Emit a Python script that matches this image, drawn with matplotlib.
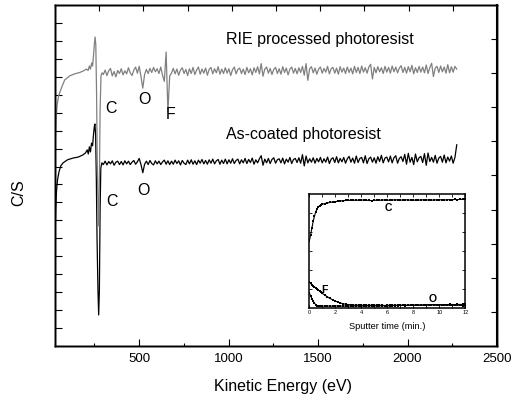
import numpy as np
import matplotlib
matplotlib.use("Agg")
import matplotlib.pyplot as plt

plt.rcParams['font.family'] = ['Liberation Sans', 'DejaVu Sans']

# --- main spectra (kinetic energy in eV, C/S in arbitrary units) ---
# low-energy part, read point by point
rie_head_ev = [32, 36, 42, 50, 66, 84, 112, 140, 168, 190, 205, 215, 222, 228, 235, 240,
               245, 250, 254, 258, 262, 266, 270, 274, 278, 282, 287, 293]
rie_head_cs = [60.4, 66.9, 70.7, 73.3, 75.7, 78.0, 79.2, 79.8, 80.2, 80.7, 81.2, 80.8, 82.1, 81.2, 83.0, 82.1,
               85.1, 88.6, 90.6, 88.3, 75.1, 54.6, 41.4, 35.2, 48.7, 69.2, 79.2, 80.1]

ce_head_ev = [31, 34, 38, 44, 52, 62, 75, 100, 130, 160, 185, 200, 210, 216, 222, 228, 234, 240,
              245, 250, 253, 257, 261, 265, 270, 274, 278, 282, 286, 292]
ce_head_cs = [33.4, 39.9, 45.2, 48.7, 51.0, 52.8, 53.7, 54.6, 55.1, 55.4, 56.0, 56.6, 57.5, 56.3, 58.4, 56.9, 59.5, 58.7,
              61.9, 64.5, 65.1, 61.9, 48.7, 31.1, 16.4, 9.1, 16.4, 39.9, 52.2, 53.7]

# 300 - 2275 eV, roughly every 10 eV
rie_tail = [79.6, 80.9, 79.3, 80.7, 81.4, 79.2, 80.5, 78.9, 80.8, 79.9, 81.3, 79.5, 80.7, 79.8, 81.6, 80.1, 79.3, 80.9, 81.8, 80.0,
            82.0, 79.0, 75.6, 79.6,
            81.1, 79.9, 81.4, 80.2, 81.7, 80.4, 81.3, 79.9, 81.8,
            79.4, 77.6, 86.2, 68.8, 79.2,
            80.0, 81.4, 79.8, 81.2, 79.4, 80.9, 81.6, 79.9, 81.1, 79.3,
            81.3, 79.9, 81.7, 79.6, 80.9, 81.8, 79.7, 81.2, 80.0, 81.5,
            79.4, 81.1, 81.7, 79.8, 81.3, 80.1, 81.9, 79.7, 81.2, 79.9,
            81.6, 80.0, 81.3, 79.3, 81.0, 81.8, 79.8, 81.1, 81.5, 79.9,
            81.2, 79.6, 81.7, 80.1, 81.3, 79.5, 81.6, 80.2, 81.9, 79.8,
            82.8, 79.1, 81.2, 81.8, 80.0, 81.4, 79.6, 81.1, 81.7, 79.9,
            81.3, 79.7, 81.9, 80.2, 81.5, 79.5, 81.2, 81.8, 80.0, 81.4,
            79.8, 81.6, 80.2, 82.0, 79.4, 82.8, 77.9, 81.3, 81.9, 80.1,
            81.5, 79.7, 81.2, 81.8, 80.0, 81.4, 80.3, 82.0, 79.8, 81.3,
            81.7, 80.0, 81.5, 79.7, 81.9, 80.3, 81.5, 79.9, 81.8, 80.2,
            81.5, 79.8, 82.0, 80.2, 81.7, 79.9, 82.1, 80.3, 81.6, 80.0,
            81.8, 82.6, 78.3, 81.7, 80.1, 81.9, 80.4, 81.6, 79.9, 82.0,
            80.3, 81.7, 80.0, 82.1, 80.4, 81.8, 80.1, 81.5, 82.2, 80.2,
            81.7, 80.0, 81.9, 80.4, 82.3, 79.8, 81.6, 80.2, 82.0, 80.3,
            81.8, 80.1, 82.4, 79.9, 81.7, 82.9, 79.0, 81.5, 82.0, 80.2,
            82.1, 80.4, 81.8, 80.0, 82.5, 80.1, 81.9, 80.3, 82.0, 81.2]

ce_tail = [53.2, 54.2, 53.1, 54.1, 53.4, 54.3, 53.0, 53.9, 54.2, 53.2, 54.1, 53.1, 54.3, 53.4, 54.2, 53.2, 53.9, 54.4, 53.3, 54.0,
           55.0, 53.2, 50.8, 53.3,
           54.2, 53.2, 54.4, 53.5, 53.1, 54.3, 53.4, 54.2, 53.2,
           54.0, 54.5, 53.3, 54.3, 53.2,
           54.2, 53.3, 54.5, 53.5, 54.3, 53.1, 54.4, 53.6, 53.2, 54.5,
           53.4, 54.6, 53.3, 54.3, 53.2, 54.5, 53.6, 54.7, 53.4, 54.4,
           53.3, 54.6, 53.6, 54.8, 53.4, 54.3, 54.7, 53.3, 54.5, 53.5,
           54.8, 53.4, 54.6, 53.6, 54.9, 53.5, 54.4, 54.8, 53.4, 54.6,
           53.7, 55.0, 53.5, 54.7, 53.8, 55.1, 53.3, 54.6, 53.7, 54.9,
           55.8, 53.0, 54.8, 53.7, 55.0, 53.5, 54.7, 55.2, 53.6, 54.6,
           54.9, 53.7, 55.1, 53.4, 54.8, 53.9, 55.3, 53.5, 54.7, 55.0,
           53.8, 55.2, 53.6, 56.1, 52.8, 55.7, 53.7, 54.9, 53.9, 55.2,
           53.6, 55.0, 54.0, 55.3, 53.7, 54.9, 53.9, 55.4, 53.5, 54.8,
           55.2, 53.8, 55.5, 53.7, 55.0, 54.0, 55.3, 53.6, 54.9, 55.6,
           53.9, 55.1, 53.6, 55.7, 53.8, 55.0, 55.3, 53.7, 55.8, 53.5,
           54.9, 55.4, 53.9, 55.2, 53.6, 55.5, 54.1, 55.9, 53.7, 55.1,
           55.4, 54.0, 55.7, 53.7, 55.2, 55.8, 53.6, 55.0, 55.5, 54.1,
           56.2, 53.3, 56.5, 53.9, 55.3, 53.2, 56.3, 54.0, 55.2, 55.6,
           53.8, 56.4, 53.0, 56.6, 54.1, 55.3, 53.9, 55.9, 53.6, 55.1,
           55.6, 53.9, 56.0, 53.7, 55.4, 54.2, 55.7, 53.6, 55.3, 59.0]

# --- inset: depth profile ---
t_fast = np.linspace(0, 1.0, 11)
t_slow = np.linspace(1.2, 12.0, 55)
c_prof = [58.5, 64.0, 70.0, 76.0, 80.5, 84.5, 87.0, 88.8, 89.8, 90.5, 91.0,
          91.6, 92.1, 92.6, 93.0, 93.3, 93.6, 93.9, 94.1, 94.3, 94.4,
          94.5, 94.6, 94.4, 94.7, 94.6, 94.8, 94.5, 94.3, 94.2, 94.4,
          94.6, 94.5, 94.7, 94.8, 94.6, 94.5, 94.7, 94.9, 94.8, 94.6,
          94.7, 94.9, 94.8, 94.6, 94.7, 94.5, 94.6, 94.8, 94.9, 94.7,
          94.8, 94.6, 94.7, 94.9, 95.0, 94.8, 94.7, 94.9, 95.1, 95.0,
          95.2, 95.1, 95.3, 95.2, 95.3]
f_prof = [22.5, 21.3, 20.2, 19.2, 18.3, 17.3, 16.3, 15.3, 14.4, 13.5, 12.6,
          11.0, 9.5, 8.1, 6.9, 5.8, 4.9, 4.1, 3.5, 3.0, 2.7,
          2.5, 2.3, 2.2, 2.3, 2.1, 2.2, 2.0, 2.3, 2.1, 2.2,
          2.0, 2.2, 2.1, 1.9, 2.2, 2.0, 2.1, 2.3, 2.0, 2.2,
          2.1, 1.9, 2.2, 2.0, 2.1, 2.3, 2.0, 2.2, 2.1, 2.4,
          2.2, 2.5, 2.3, 2.1, 2.4, 2.2, 2.0, 2.3, 2.1, 2.2,
          2.0, 2.2, 2.1, 1.9, 2.0]
o_prof = [13.0, 10.5, 8.0, 5.8, 3.9, 2.6, 1.9, 1.6, 1.5, 1.4, 1.4,
          1.4, 1.5, 1.3, 1.4, 1.6, 1.4, 1.5, 1.3, 1.5, 1.4,
          1.6, 1.4, 1.5, 1.7, 1.5, 1.4, 1.6, 1.5, 1.7, 1.6,
          1.5, 1.7, 1.6, 1.8, 1.6, 1.5, 1.7, 1.9, 1.8, 2.0,
          2.1, 2.0, 2.2, 2.3, 2.2, 2.4, 2.3, 2.5, 2.4, 2.6,
          2.5, 2.7, 2.6, 2.8, 2.7, 2.6, 2.8, 2.7, 2.9, 2.8,
          2.7, 2.9, 2.8, 3.0, 2.9]

rie_ev = np.concatenate([rie_head_ev, np.linspace(300, 2275, len(rie_tail))])
rie_cs = np.concatenate([rie_head_cs, rie_tail])
ce_ev = np.concatenate([ce_head_ev, np.linspace(300, 2275, len(ce_tail))])
ce_cs = np.concatenate([ce_head_cs, ce_tail])
t_all = np.concatenate([t_fast, t_slow])

fig = plt.figure(figsize=(5.16, 4.01), dpi=100)
ax = fig.add_axes([0.1066, 0.1372, 0.8566, 0.8504])

ax.plot(ce_ev, ce_cs, color='black', lw=0.9)
ax.plot(rie_ev, rie_cs, color='#808080', lw=0.9)

ax.set_xlim(30, 2500)
ax.set_ylim(0, 100)
ax.set_xticks([500, 1000, 1500, 2000, 2500])
ax.set_xticks([250, 750, 1250, 1750, 2250], minor=True)
ax.set_yticks(np.linspace(0, 100, 20)[1:-1])
ax.tick_params(axis='x', which='major', direction='in', length=5, width=0.8,
               labelsize=9.5, top=False, pad=5)
ax.tick_params(axis='x', which='minor', direction='in', length=2.5, width=0.8, top=False)
ax.tick_params(axis='y', direction='in', length=5, width=0.8, right=False, labelleft=False)

ax.set_xlabel('Kinetic Energy (eV)', fontsize=11.5)
ax.xaxis.set_label_coords(0.516, -0.097)
ax.set_ylabel('C/S', fontsize=11.5)
ax.yaxis.set_label_coords(-0.065, 0.45)

# top and right axes use their own 10-division scales
top = ax.twiny()
top.set_xlim(0, 10)
top.set_xticks(range(1, 10))
top.tick_params(direction='in', length=4, width=0.8, labeltop=False)
right = ax.twinx()
right.set_ylim(0, 10)
right.set_yticks(range(1, 10))
right.tick_params(direction='in', length=4, width=0.8, labelright=False)
for a in (ax, top, right):
    for s in a.spines.values():
        s.set_linewidth(1.0)
right.spines['right'].set_linewidth(1.5)

ax.text(985, 90.0, 'RIE processed photoresist', fontsize=11.5, ha='left', va='center')
ax.text(985, 62.1, 'As-coated photoresist', fontsize=11.5, ha='left', va='center')
ax.text(342, 69.7, 'C', fontsize=11.5, ha='center', va='center')
ax.text(532, 72.2, 'O', fontsize=11.5, ha='center', va='center')
ax.text(676, 67.8, 'F', fontsize=11.5, ha='center', va='center')
ax.text(346, 42.5, 'C', fontsize=11.5, ha='center', va='center')
ax.text(526, 45.5, 'O', fontsize=11.5, ha='center', va='center')

# inset
ins = fig.add_axes([0.5994, 0.2327, 0.3023, 0.2835])
for prof in (c_prof, f_prof, o_prof):
    ins.plot(t_all, prof, color='black', lw=0.8, marker='s', ms=1.6, mew=0)
ins.set_xlim(0, 12)
ins.set_ylim(0, 100)
ins.set_xticks(range(0, 13, 2))
ins.set_xticks(range(1, 12, 2), minor=True)
ins.set_yticks(np.linspace(0, 100, 7)[1:-1])
ins.tick_params(axis='x', which='both', direction='in', top=True, labelsize=4, pad=1.5,
                length=2, width=0.6)
ins.tick_params(axis='y', direction='in', right=True, labelleft=False, length=2, width=0.6)
for s in ins.spines.values():
    s.set_linewidth(1.1)
ins.set_xlabel('Sputter time (min.)', fontsize=6.7)
ins.xaxis.set_label_coords(0.5, -0.125)
ins.text(6.08, 87.4, 'C', fontsize=7.5, fontweight='bold', ha='center', va='center')
ins.text(1.15, 15.6, 'F', fontsize=7.5, fontweight='bold', ha='center', va='center')
ins.text(9.5, 7.4, 'O', fontsize=7.5, fontweight='bold', ha='center', va='center')

fig.savefig('out.png', dpi=100)
